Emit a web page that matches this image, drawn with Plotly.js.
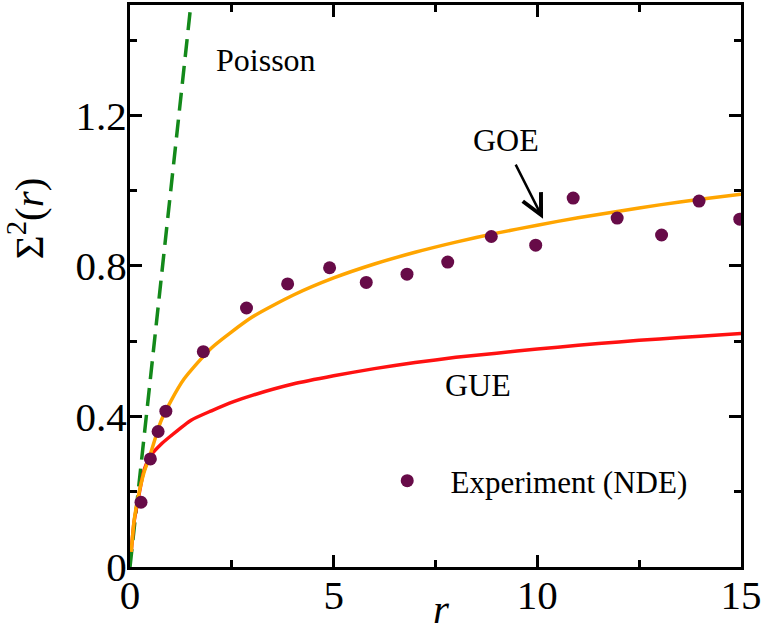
<!DOCTYPE html>
<html>
<head>
<meta charset="utf-8">
<script src="https://cdn.plot.ly/plotly-3.0.1.min.js"></script>
<style>
    html, body { margin: 0; padding: 0; background: #ffffff; }
    #sigmaChart { width: 763px; height: 626px; }
</style>
</head>
<body>
<div id="sigmaChart"></div>
<script>
// Experiment (NDE) points
const experimentR = [0.27, 0.5, 0.69, 0.88, 1.8, 2.86, 3.87, 4.9, 5.8, 6.8, 7.8, 8.87, 9.96, 10.88, 11.96, 13.05, 13.97, 14.97];
const experimentSigma = [0.172, 0.287, 0.36, 0.414, 0.572, 0.688, 0.752, 0.795, 0.756, 0.778, 0.81, 0.878, 0.855, 0.98, 0.927, 0.882, 0.972, 0.924];

// GOE curve
const goeR = [0.03, 0.1, 0.2, 0.34, 0.5, 0.75, 1, 1.33, 2, 3, 4, 5, 6, 7, 8, 9, 10, 11, 12, 13, 14, 15];
const goeSigma = [0.04, 0.122, 0.186, 0.25, 0.3, 0.385, 0.44, 0.5, 0.582, 0.664, 0.722, 0.768, 0.805, 0.836, 0.863, 0.887, 0.908, 0.928, 0.945, 0.962, 0.977, 0.99];

// GUE curve
const gueR = [0.03, 0.1, 0.2, 0.34, 0.5, 0.75, 1, 1.5, 2, 2.56, 3, 4, 5, 6, 7, 8, 9, 10, 11, 12, 13, 14, 15];
const gueSigma = [0.04, 0.12, 0.18, 0.255, 0.295, 0.325, 0.348, 0.39, 0.415, 0.44, 0.456, 0.486, 0.508, 0.527, 0.543, 0.557, 0.568, 0.579, 0.589, 0.598, 0.606, 0.613, 0.62];

// Poisson: straight line
const poissonR = [0, 1.6];
const poissonSigma = [0, 1.6];

const fontFamily = "Liberation Serif";

const traces = [
    {
        x: poissonR,
        y: poissonSigma,
        mode: "lines",
        type: "scatter",
        line: { color: "#13891a", width: 3.5, dash: "18px,9px" },
        showlegend: false,
        hoverinfo: "skip"
    },
    {
        x: gueR,
        y: gueSigma,
        mode: "lines",
        type: "scatter",
        line: { color: "#ff1111", width: 3.5, shape: "spline", smoothing: 0.6 },
        showlegend: false
    },
    {
        x: goeR,
        y: goeSigma,
        mode: "lines",
        type: "scatter",
        line: { color: "#ffa500", width: 3.5, shape: "spline", smoothing: 0.6 },
        showlegend: false
    },
    {
        x: experimentR,
        y: experimentSigma,
        mode: "markers",
        type: "scatter",
        name: "&nbsp;&nbsp;&nbsp;Experiment (NDE)",
        marker: { color: "#670b48", size: 13 },
        showlegend: true
    }
];

const axisCommon = {
    showline: true,
    linecolor: "#000000",
    linewidth: 3,
    mirror: "allticks",
    ticks: "inside",
    ticklen: 12,
    tickwidth: 3,
    tickcolor: "#000000",
    showgrid: false,
    zeroline: false,
    automargin: false,
    tickfont: { family: fontFamily, size: 41, color: "#000000" }
};

const layout = {
    width: 763,
    height: 626,
    margin: { l: 130, r: 22, t: 5, b: 59 },
    paper_bgcolor: "#ffffff",
    plot_bgcolor: "#ffffff",
    font: { family: fontFamily, color: "#000000" },
    xaxis: {
        ...axisCommon,
        range: [0, 15],
        dtick: 5,
        tick0: 0,
        ticklabelstandoff: -10,
        minor: { dtick: 2.5, ticklen: 7, tickwidth: 3, tickcolor: "#000000", ticks: "inside" }
    },
    yaxis: {
        ...axisCommon,
        range: [0, 1.493],
        dtick: 0.4,
        tick0: 0,
        ticklabelstandoff: -8,
        minor: { dtick: 0.2, ticklen: 7, tickwidth: 3, tickcolor: "#000000", ticks: "inside" }
    },
    showlegend: true,
    legend: {
        x: 0.421,
        y: 0.153,
        xanchor: "left",
        yanchor: "middle",
        bgcolor: "rgba(0,0,0,0)",
        font: { family: fontFamily, size: 31, color: "#000000" }
    },
    annotations: [
        // axis titles
        {
            text: "<i>r</i>",
            x: (441 - 130) / 611,
            y: -0.075,
            xref: "paper",
            yref: "paper",
            xanchor: "center",
            yanchor: "middle",
            showarrow: false,
            font: { family: fontFamily, size: 41 }
        },
        {
            text: "Σ<sup>2</sup>(<i>r</i>)",
            x: -0.17,
            y: 0.621,
            xref: "paper",
            yref: "paper",
            xanchor: "center",
            yanchor: "middle",
            textangle: -90,
            showarrow: false,
            font: { family: fontFamily, size: 41 }
        },
        // curve labels
        { text: "Poisson", x: 3.34, y: 1.347, xref: "x", yref: "y", showarrow: false, font: { family: fontFamily, size: 32 } },
        { text: "GOE", x: 9.23, y: 1.134, xref: "x", yref: "y", showarrow: false, font: { family: fontFamily, size: 32 } },
        { text: "GUE", x: 8.54, y: 0.483, xref: "x", yref: "y", showarrow: false, font: { family: fontFamily, size: 32 } },
        {
            text: "",
            x: 10.14,
            y: 0.925,
            ax: 9.45,
            ay: 1.073,
            xref: "x",
            yref: "y",
            axref: "x",
            ayref: "y",
            showarrow: true,
            arrowhead: 5,
            arrowsize: 1.6,
            arrowwidth: 2.5,
            arrowcolor: "#000000"
        }
    ]
};

Plotly.newPlot("sigmaChart", traces, layout, { staticPlot: true, displayModeBar: false });
</script>
</body>
</html>
